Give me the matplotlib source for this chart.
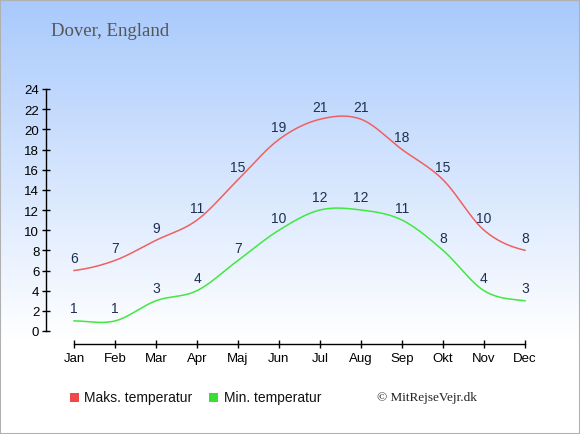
import numpy as np
import matplotlib
matplotlib.use("Agg")
import matplotlib.pyplot as plt
from matplotlib.patches import Rectangle

months = ["Jan", "Feb", "Mar", "Apr", "Maj", "Jun", "Jul", "Aug", "Sep", "Okt", "Nov", "Dec"]
max_temp = [6, 7, 9, 11, 15, 19, 21, 21, 18, 15, 10, 8]
min_temp = [1, 1, 3, 4, 7, 10, 12, 12, 11, 8, 4, 3]
yticks = list(range(0, 25, 2))

W, H = 580, 435
fig = plt.figure(figsize=(W / 100, H / 100), dpi=100)

# background gradient
bg = fig.add_axes([0, 0, 1, 1], zorder=0)
bg.set_axis_off()
top = np.array([0.66, 0.79, 0.99])
white = np.array([1.0, 1.0, 1.0])
t = np.clip(np.linspace(0, 1, 400) / 0.78, 0, 1)
img = top[None, :] * (1 - t[:, None]) + white[None, :] * t[:, None]
bg.imshow(img[:, None, :], aspect="auto", extent=[0, 1, 0, 1], origin="upper")
bg.set_xlim(0, 1)
bg.set_ylim(0, 1)
bg.add_patch(Rectangle((0.0008, 0.001), 0.9984, 0.997, fill=False, edgecolor="#b0b0b0", lw=1.5))

x0, x1 = 74, 525
y0, y1 = 90, 332
ax = fig.add_axes([x0 / W, 1 - y1 / H, (x1 - x0) / W, (y1 - y0) / H], zorder=1)
ax.patch.set_alpha(0)


def catmull(xs, ys, n=30):
    xs = np.asarray(xs, float)
    ys = np.asarray(ys, float)
    px = np.concatenate([[2 * xs[0] - xs[1]], xs, [2 * xs[-1] - xs[-2]]])
    py = np.concatenate([[ys[0]], ys, [ys[-1]]])
    ox, oy = [], []
    for i in range(1, len(px) - 2):
        tt = np.linspace(0, 1, n, endpoint=False)
        p0, p1, p2, p3 = py[i - 1], py[i], py[i + 1], py[i + 2]
        q0, q1, q2, q3 = px[i - 1], px[i], px[i + 1], px[i + 2]
        f = lambda a, b, c, d: 0.5 * ((2 * b) + (-a + c) * tt + (2 * a - 5 * b + 4 * c - d) * tt ** 2 + (-a + 3 * b - 3 * c + d) * tt ** 3)
        ox.append(f(q0, q1, q2, q3))
        oy.append(f(p0, p1, p2, p3))
    ox.append([xs[-1]])
    oy.append([ys[-1]])
    return np.concatenate(ox), np.concatenate(oy)


xi = np.arange(len(months))
for vals, col in [(max_temp, "#f06060"), (min_temp, "#40e840")]:
    sx, sy = catmull(xi, vals)
    ax.plot(sx, sy, color=col, lw=1.1, clip_on=False)
    for x, v in zip(xi, vals):
        ax.annotate(str(v), (x, v), xytext=(0, 4), textcoords="offset points",
                    ha="center", va="bottom", fontsize=10, color="#1e3050",
                    family=["Liberation Sans", "DejaVu Sans"])

ax.set_xlim(0, 11)
ax.set_ylim(0, 24)
ax.set_xticks(xi)
ax.set_xticklabels(months)
ax.set_yticks(yticks)
for s in ["top", "right"]:
    ax.spines[s].set_visible(False)
ax.spines["left"].set_position(("outward", 20))
ax.spines["bottom"].set_position(("outward", 9))
ax.spines["left"].set_linewidth(1)
ax.spines["bottom"].set_linewidth(1)
ax.tick_params(direction="inout", length=6, width=1, labelsize=9.5, colors="black")
ax.tick_params(axis="y", pad=2)
ax.tick_params(axis="x", pad=3)
for lab in ax.get_xticklabels() + ax.get_yticklabels():
    lab.set_family(["Liberation Sans", "DejaVu Sans"])

fig.text(51 / W, 1 - 32 / H, "Dover, England", fontsize=13.5, color="#555555",
         family=["Liberation Serif", "DejaVu Serif"], va="center", ha="left")

# legend
fig.patches.append(Rectangle((70 / W, 1 - 403 / H), 9 / W, 9 / H, transform=fig.transFigure,
                             facecolor="#f04848", edgecolor="none"))
fig.text(84 / W, 1 - 398 / H, "Maks. temperatur", fontsize=10, va="center", ha="left",
         family=["Liberation Sans", "DejaVu Sans"], color="#111111")
fig.patches.append(Rectangle((209 / W, 1 - 403 / H), 9 / W, 9 / H, transform=fig.transFigure,
                             facecolor="#33e033", edgecolor="none"))
fig.text(224 / W, 1 - 398 / H, "Min. temperatur", fontsize=10, va="center", ha="left",
         family=["Liberation Sans", "DejaVu Sans"], color="#111111")
fig.text(377 / W, 1 - 398 / H, "© MitRejseVejr.dk", fontsize=9.5, va="center", ha="left",
         family=["Liberation Serif", "DejaVu Serif"], color="#222222")

fig.savefig("out.png", dpi=100)
